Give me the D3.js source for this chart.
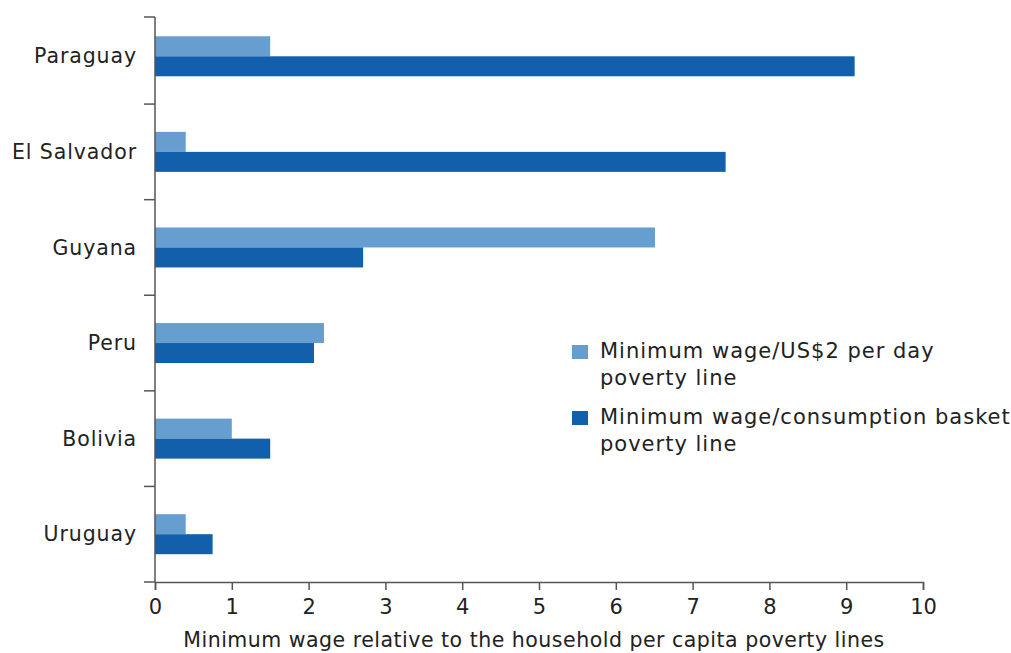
<!DOCTYPE html>
<html>
<head>
<meta charset="utf-8">
<script src="https://cdn.jsdelivr.net/npm/d3@7"></script>
<style>
  html, body { margin: 0; padding: 0; background: #fff; }
  svg text { font-family: "DejaVu Sans", sans-serif; fill: #222; }
</style>
</head>
<body>
<svg id="chart" width="1011" height="653"></svg>
<script>
const categories = ["Paraguay", "El Salvador", "Guyana", "Peru", "Bolivia", "Uruguay"];
const usd2Values = [1.5, 0.4, 6.51, 2.2, 1.0, 0.4];
const basketValues = [9.11, 7.43, 2.71, 2.07, 1.5, 0.75];
const seriesNames = ["Minimum wage/US$2 per day poverty line", "Minimum wage/consumption basket poverty line"];
const legendLines = [["Minimum wage/US$2 per day", "poverty line"], ["Minimum wage/consumption basket", "poverty line"]];
const xTicks = [0, 1, 2, 3, 4, 5, 6, 7, 8, 9, 10];
const xTitle = "Minimum wage relative to the household per capita poverty lines";
const colors = ["#669ecf", "#125fab"];

const svg = d3.select("#chart");
const x = d3.scaleLinear().domain([0, 10]).range([155, 923]);
const y = d3.scaleBand().domain(categories).range([8.5, 582]);
const barH = 20;
const axisColor = "#555";

// bars
const series = [usd2Values, basketValues];
series.forEach((vals, si) => {
  svg.append("g").selectAll("rect").data(categories).join("rect")
    .attr("x", x(0))
    .attr("y", d => y(d) + y.bandwidth() / 2 - barH + si * barH)
    .attr("width", (d, i) => x(vals[i]) - x(0))
    .attr("height", barH)
    .attr("fill", colors[si]);
});

// y axis
const yAxisG = svg.append("g");
yAxisG.append("line").attr("x1", x(0)).attr("x2", x(0)).attr("y1", 17).attr("y2", 582)
  .attr("stroke", axisColor).attr("stroke-width", 1.5);
yAxisG.selectAll("line.tk").data([17].concat(categories.map(c => y(c) + y.bandwidth()))).join("line")
  .attr("class", "tk")
  .attr("x1", x(0) - 11).attr("x2", x(0))
  .attr("y1", d => d).attr("y2", d => d)
  .attr("stroke", axisColor).attr("stroke-width", 1.5);
yAxisG.selectAll("text").data(categories).join("text")
  .attr("x", 137)
  .attr("y", d => y(d) + y.bandwidth() / 2)
  .attr("dy", "0.35em")
  .attr("text-anchor", "end")
  .attr("font-size", 20.5)
  .attr("letter-spacing", 0.9)
  .text(d => d);

// x axis
const xAxis = d3.axisBottom(x).tickValues(xTicks).tickSize(8).tickPadding(9).tickFormat(d3.format("d"));
const xg = svg.append("g").attr("transform", "translate(0,582)").call(xAxis);
xg.select(".domain").attr("stroke", axisColor).attr("stroke-width", 1.5);
xg.selectAll(".tick line").attr("stroke", axisColor).attr("stroke-width", 1.5);
xg.selectAll(".tick text").attr("font-size", 21).style("font-family", "'DejaVu Sans', sans-serif").attr("fill", "#222");

svg.append("text")
  .attr("x", 534)
  .attr("y", 647)
  .attr("text-anchor", "middle")
  .attr("font-size", 20.5)
  .attr("letter-spacing", 0.5)
  .text(xTitle);

// legend
const lg = svg.append("g");
const legendTop = [345, 411];
legendLines.forEach((lines, i) => {
  lg.append("rect").attr("x", 572).attr("y", legendTop[i]).attr("width", 16).attr("height", 14).attr("fill", colors[i]);
  lines.forEach((t, j) => {
    lg.append("text").attr("x", 600).attr("y", legendTop[i] + 13 + j * 27)
      .attr("font-size", 21).attr("letter-spacing", 1.0).text(t);
  });
});
</script>
</body>
</html>
